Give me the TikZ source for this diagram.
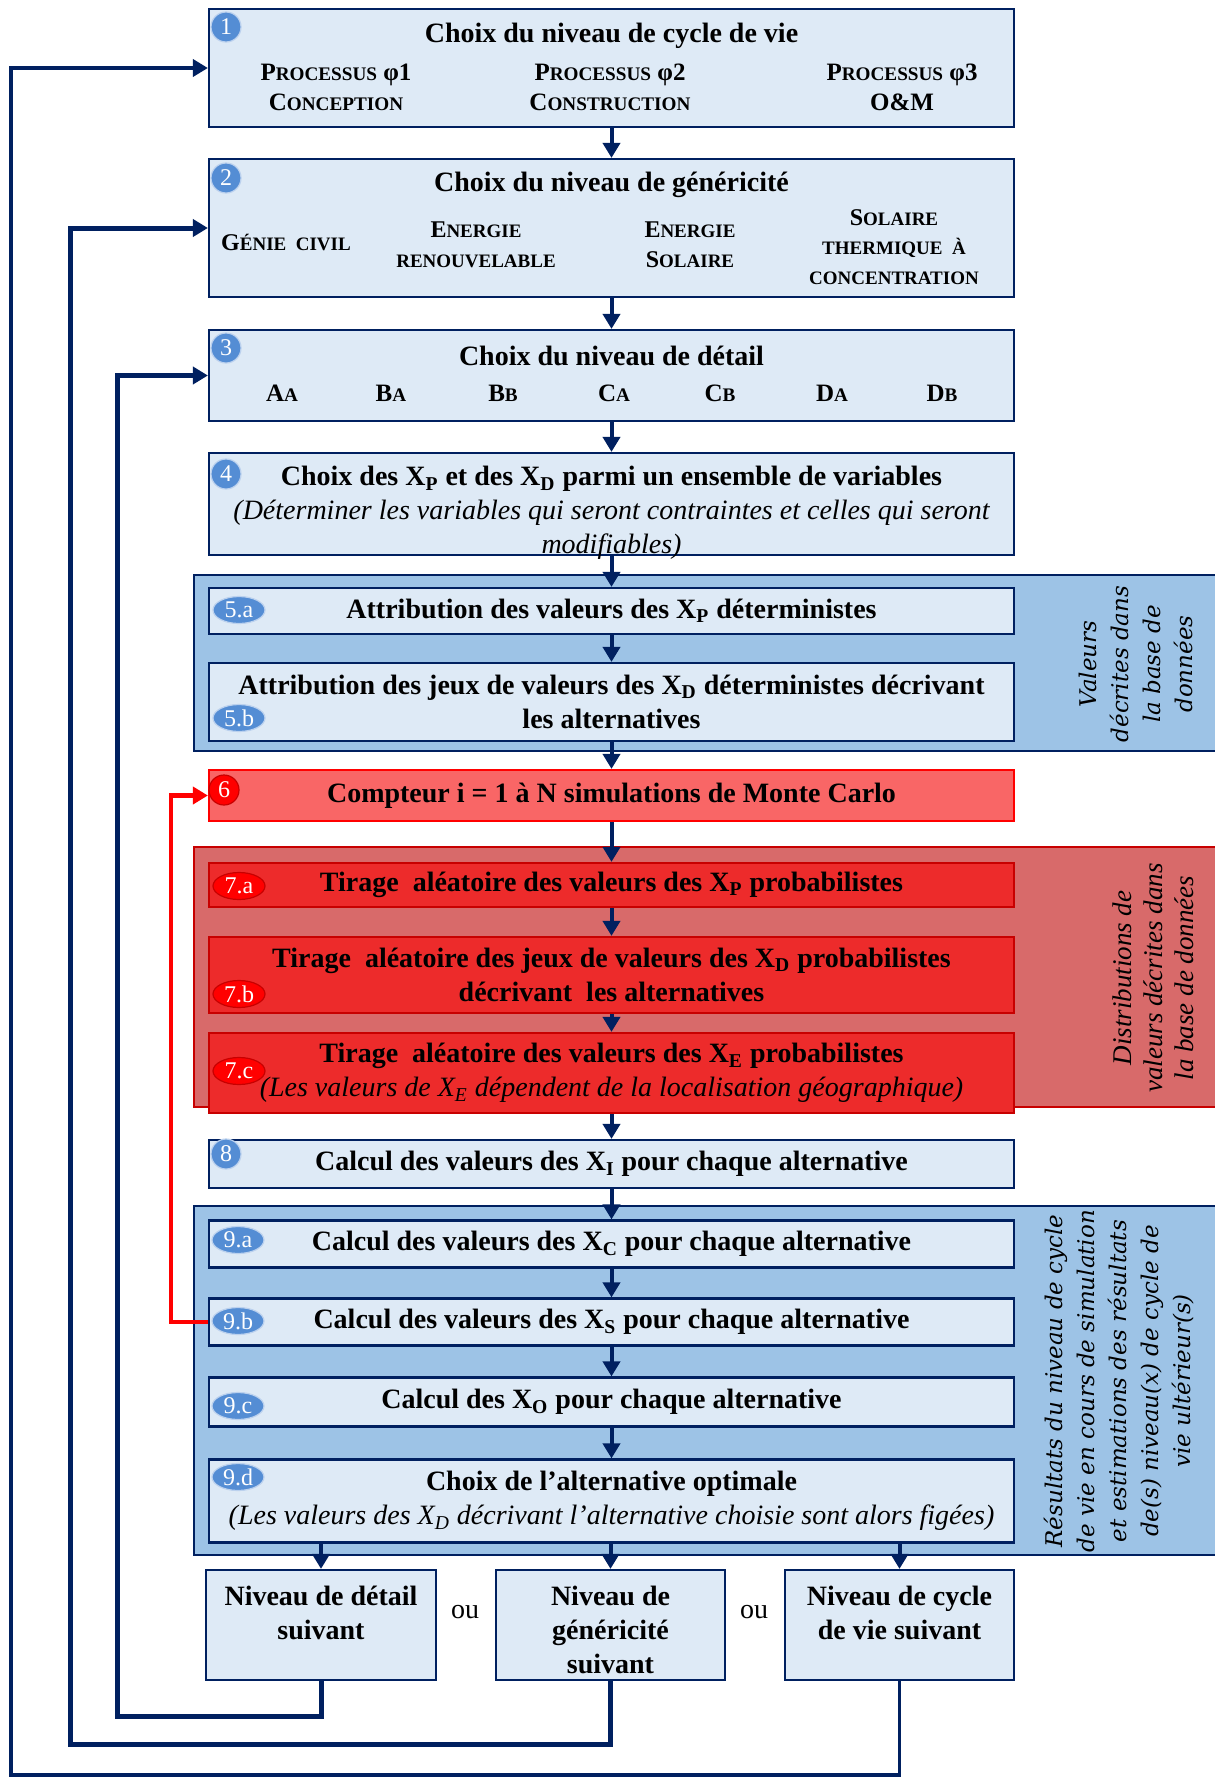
\documentclass[tikz,border=0pt]{standalone}
\usepackage{fontspec}
\setmainfont{Liberation Serif}
\newfontfamily\cotefont{DejaVu Serif}
\usepackage{tikz}
\usetikzlibrary{positioning, arrows.meta, calc, shapes.geometric}

\definecolor{marine}{RGB}{0,32,96}
\definecolor{bleuclair}{RGB}{222,234,246}
\definecolor{bleugroupe}{RGB}{157,195,230}
\definecolor{puceb}{RGB}{84,141,212}
\definecolor{rougeclair}{RGB}{249,102,102}
\definecolor{rougegroupe}{RGB}{216,106,106}
\definecolor{rougevif}{RGB}{237,43,43}
\definecolor{rougebord}{RGB}{200,0,0}

% petites capitales simulees
\newcommand{\pcap}[2]{#1{\fontsize{9.6}{12}\selectfont #2}}
\newcommand{\pcapp}[2]{#1{\fontsize{9.5}{12}\selectfont #2}}
\newcommand{\sous}[1]{\textsubscript{#1}}

\begin{document}
\begin{tikzpicture}[x=0.5pt,y=-0.5pt,
    etape/.style={rectangle, draw=marine, fill=bleuclair, line width=1.1pt,
        minimum width=402.5pt, inner sep=0pt, align=center,
        font=\bfseries\fontsize{14}{17}\selectfont},
    etaperouge/.style={etape, draw=rougebord, fill=rougevif},
    groupe/.style={rectangle, draw=marine, fill=bleugroupe, line width=1pt,
        minimum width=513pt, inner sep=0pt},
    titre/.style={font=\bfseries\fontsize{14}{17}\selectfont, align=center},
    item/.style={font=\bfseries\fontsize{12.5}{14.75}\selectfont, align=center},
    itemb/.style={font=\bfseries\fontsize{12}{15}\selectfont, align=center},
    note/.style={font=\itshape\fontsize{14}{17}\selectfont, align=center},
    cote/.style={rotate=90, align=center, font=\cotefont\itshape\fontsize{11.5}{16}\selectfont},
    puce/.style={ellipse, fill=puceb, draw=white!60!puceb, line width=0.6pt,
        text=white, inner sep=0pt, minimum width=15pt, minimum height=15pt,
        font=\fontsize{12}{12}\selectfont},
    pucel/.style={puce, minimum width=26pt, minimum height=13.5pt},
    pucerouge/.style={puce, fill=red, draw=rougebord},
    fleche/.style={draw=marine, line width=2pt, -{Triangle[width=8.5pt,length=7.5pt]}},
    retour/.style={fleche, line width=2.5pt},
    retourrouge/.style={draw=red, line width=2.2pt, -{Triangle[width=8.5pt,length=7.5pt]}}]

    \fill[white] (0,0) rectangle (1215,1778);
    \useasboundingbox (0,0) rectangle (1215,1778);

    % groupes de fond
    \node[groupe, minimum height=88pt] (grp5) at (707,663) {};
    \node[groupe, fill=rougegroupe, draw=rougebord, minimum height=130pt] (grp7) at (707,977) {};
    \node[groupe, minimum height=174.5pt] (grp9) at (707,1380.5) {};

    % etapes 1 a 4
    \node[etape, minimum height=59pt] (e1) at (611.5,68) {};
    \node[titre] (t1) at (611.5,36) {Choix du niveau de cycle de vie};
    \node[item] (c1a) at (336,87.5) {\pcap{P}{ROCESSUS} φ1\\\pcap{C}{ONCEPTION}};
    \node[item] (c1b) at (610,87.5) {\pcap{P}{ROCESSUS} φ2\\\pcap{C}{ONSTRUCTION}};
    \node[item] (c1c) at (902,87.5) {\pcap{P}{ROCESSUS} φ3\\O\&M};

    \node[etape, minimum height=69pt] (e2) at (611.5,228) {};
    \node[titre] (t2) at (611.5,185) {Choix du niveau de généricité};
    \node[itemb] (c2a) at (286,242) {\pcapp{G}{ÉNIE\ \ CIVIL}};
    \node[itemb] (c2b) at (476,245) {\pcapp{E}{NERGIE}\\{\fontsize{9.5}{15}\selectfont RENOUVELABLE}};
    \node[itemb] (c2c) at (690,245) {\pcapp{E}{NERGIE}\\\pcapp{S}{OLAIRE}};
    \node[itemb, font=\bfseries\fontsize{12}{14.75}\selectfont] (c2d) at (894,247)
        {\pcapp{S}{OLAIRE}\\{\fontsize{9.5}{14.75}\selectfont THERMIQUE\ \ À}\\{\fontsize{9.5}{14.75}\selectfont CONCENTRATION}};

    \node[etape, minimum height=45.5pt] (e3) at (611.5,375.5) {};
    \node[titre] (t3) at (611.5,356) {Choix du niveau de détail};
    \node[item] (c3a) at (282,393) {\pcap{A}{A}};
    \node[item] (c3b) at (391,393) {\pcap{B}{A}};
    \node[item] (c3c) at (503,393) {\pcap{B}{B}};
    \node[item] (c3d) at (614,393) {\pcap{C}{A}};
    \node[item] (c3e) at (720,393) {\pcap{C}{B}};
    \node[item] (c3f) at (832,393) {\pcap{D}{A}};
    \node[item] (c3g) at (942,393) {\pcap{D}{B}};

    \node[etape, minimum height=51pt] (e4) at (611.5,504) {};
    \node[titre] (t4) at (611.5,479) {Choix des X\sous{P} et des X\sous{D} parmi un ensemble de variables};
    \node[note] (n4) at (611.5,530) {(Déterminer les variables qui seront contraintes et celles qui seront\\modifiables)};

    % etapes 5
    \node[etape, minimum height=23pt] (e5a) at (611.5,611) {Attribution des valeurs des X\sous{P} déterministes};
    \node[etape, minimum height=39pt] (e5b) at (611.5,702) {Attribution des jeux de valeurs des X\sous{D} déterministes décrivant\\les alternatives};
    \node[cote] (v5) at (1136,664) {Valeurs\\décrites dans\\la base de\\données};

    % etape 6
    \node[etape, draw=red, fill=rougeclair, minimum height=25.5pt] (e6) at (611.5,795.5)
        {Compteur i = 1 à N simulations de Monte Carlo};

    % etapes 7
    \node[etaperouge, minimum height=22pt] (e7a) at (611.5,885) {Tirage\ \ aléatoire des valeurs des X\sous{P} probabilistes};
    \node[etaperouge, minimum height=38pt] (e7b) at (611.5,975) {Tirage\ \ aléatoire des jeux de valeurs des X\sous{D} probabilistes\\décrivant\ \ les alternatives};
    \node[etaperouge, minimum height=40pt] (e7c) at (611.5,1073) {Tirage\ \ aléatoire des valeurs des X\sous{E} probabilistes\\{\mdseries\itshape (Les valeurs de X\sous{E} dépendent de la localisation géographique)}};
    \node[cote, font=\itshape\fontsize{13.5}{15.5}\selectfont] (v7) at (1153,978) {Distributions de\\valeurs décrites dans\\la base de données};

    % etape 8
    \node[etape, minimum height=24pt] (e8) at (611.5,1164) {Calcul des valeurs des X\sous{I} pour chaque alternative};

    % etapes 9
    \node[etape, minimum height=23.5pt] (e9a) at (611.5,1244) {Calcul des valeurs des X\sous{C} pour chaque alternative};
    \node[etape, minimum height=23.5pt] (e9b) at (611.5,1322) {Calcul des valeurs des X\sous{S} pour chaque alternative};
    \node[etape, minimum height=24.5pt] (e9c) at (611.5,1402) {Calcul des X\sous{O} pour chaque alternative};
    \node[etape, minimum height=41.5pt] (e9d) at (611.5,1501) {Choix de l’alternative optimale\\{\mdseries\itshape (Les valeurs des X\sous{D} décrivant l’alternative choisie sont alors figées)}};
    \node[cote] (v9) at (1119,1381) {Résultats du niveau de cycle\\de vie en cours de simulation\\et estimations des résultats\\de(s) niveau(x) de cycle de\\vie ultérieur(s)};

    % niveaux suivants
    \node[etape, minimum width=115pt, minimum height=55pt] (nA) at (321,1625) {};
    \node[etape, minimum width=114.5pt, minimum height=55pt] (nB) at (610.5,1625) {};
    \node[etape, minimum width=114.5pt, minimum height=55pt] (nC) at (899.5,1625) {};
    \node[titre] (tA) at (321,1613) {Niveau de détail\\suivant};
    \node[titre] (tB) at (610.5,1630) {Niveau de\\généricité\\suivant};
    \node[titre] (tC) at (899.5,1613) {Niveau de cycle\\de vie suivant};
    \node[font=\fontsize{14}{15}\selectfont] (ou1) at (465,1612) {ou};
    \node[font=\fontsize{14}{15}\selectfont] (ou2) at (754,1612) {ou};

    % pastilles
    \node[puce] (p1) at (226,27) {1};
    \node[puce] (p2) at (226,178) {2};
    \node[puce] (p3) at (226,348) {3};
    \node[puce] (p4) at (226,474) {4};
    \node[pucel] (p5a) at (239,610) {5.a};
    \node[pucel] (p5b) at (239,718) {5.b};
    \node[pucerouge] (p6) at (224,790) {6};
    \node[pucel, pucerouge, minimum width=26pt, minimum height=13.5pt] (p7a) at (239,886) {7.a};
    \node[pucel, pucerouge, minimum width=26pt, minimum height=13.5pt] (p7b) at (239,994) {7.b};
    \node[pucel, pucerouge, minimum width=26pt, minimum height=13.5pt] (p7c) at (239,1071) {7.c};
    \node[puce] (p8) at (226,1154) {8};
    \node[pucel] (p9a) at (238,1240) {9.a};
    \node[pucel] (p9b) at (238,1321) {9.b};
    \node[pucel] (p9c) at (238,1406) {9.c};
    \node[pucel] (p9d) at (238,1477) {9.d};

    % fleches principales
    \draw[fleche] (e1) -- (e2);
    \draw[fleche] (e2) -- (e3);
    \draw[fleche] (e3) -- (e4);
    \draw[fleche] (e4) -- (e5a);
    \draw[fleche] (e5a) -- (e5b);
    \draw[fleche] (e5b) -- (e6);
    \draw[fleche] (e6) -- (e7a);
    \draw[fleche] (e7a) -- (e7b);
    \draw[fleche] (e7b) -- (e7c);
    \draw[fleche] (e7c) -- (e8);
    \draw[fleche] (e8) -- (e9a);
    \draw[fleche] (e9a) -- (e9b);
    \draw[fleche] (e9b) -- (e9c);
    \draw[fleche] (e9c) -- (e9d);
    \draw[fleche] (e9d.south -| nA.north) -- (nA.north);
    \draw[fleche] (e9d.south -| nB.north) -- (nB.north);
    \draw[fleche] (e9d.south -| nC.north) -- (nC.north);

    % boucles de retour
    \coordinate (retA) at (117,1716);
    \coordinate (retB) at (70,1744);
    \coordinate (retC) at (11,1775);
    \coordinate (boucle) at (171,795.5);
    \draw[retour] (nA.south) |- (retA) |- (e3.west);
    \draw[retour] (nB.south) |- (retB) |- (e2.west);
    \draw[retour, line width=1.8pt] (nC.south) |- (retC) |- (e1.west);
    \draw[retourrouge] (e9b.west) -| (boucle) -- (e6.west);
\end{tikzpicture}
\end{document}
